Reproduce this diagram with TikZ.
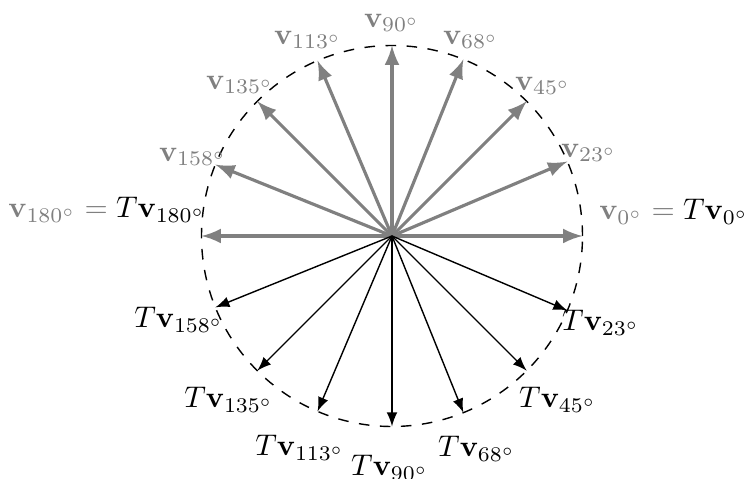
\documentclass[tikz,border=0pt]{standalone}
\usetikzlibrary{arrows,calc}
\begin{document}
\begin{tikzpicture}[
  vec/.style={gray, line width=0.9pt, -latex},
  tvec/.style={black, line width=0.4pt, -latex},
  circ/.style={black, dashed, line width=0.4pt},
  glab/.style={text=gray, inner sep=0pt, scale=0.85},
  blab/.style={text=black, inner sep=0pt, scale=0.85}
]
\useasboundingbox (0,0) rectangle (7.5,4.79);
\coordinate (o) at (3.92,2.43);
\def\R{1.905}
\draw[circ] (o) circle (\R);
% upper (gray) vectors
\foreach \a in {0,23,45,68,90,113,135,158,180}{
  \coordinate (u\a) at ($(o)+(\a:\R)$);
}
\foreach \a in {23,45,68,90,113,135,158}{
  \coordinate (d\a) at ($(o)+(-\a:\R)$);
}
\foreach \a in {0,23,45,68,90,113,135,158,180}{
  \draw[vec] (o) -- (u\a);
}
\foreach \a in {23,45,68,90,113,135,158}{
  \draw[tvec] (o) -- (d\a);
}
% labels
\node[glab] (l23)  at ($(o)+(1.97,0.83)$)  {$\mathbf{v}_{23^\circ}$};
\node[glab] (l45)  at ($(o)+(1.51,1.50)$)  {$\mathbf{v}_{45^\circ}$};
\node[glab] (l68)  at ($(o)+(0.79,1.96)$)  {$\mathbf{v}_{68^\circ}$};
\node[glab] (l90)  at ($(o)+(0.00,2.13)$)  {$\mathbf{v}_{90^\circ}$};
\node[glab] (l113) at ($(o)+(-0.84,1.96)$) {$\mathbf{v}_{113^\circ}$};
\node[glab] (l135) at ($(o)+(-1.52,1.51)$) {$\mathbf{v}_{135^\circ}$};
\node[glab] (l158) at ($(o)+(-1.99,0.79)$) {$\mathbf{v}_{158^\circ}$};
\node[blab] (m23)  at ($(o)+(2.09,-0.87)$)  {$T\mathbf{v}_{23^\circ}$};
\node[blab] (m45)  at ($(o)+(1.66,-1.64)$)  {$T\mathbf{v}_{45^\circ}$};
\node[blab] (m68)  at ($(o)+(0.85,-2.13)$)  {$T\mathbf{v}_{68^\circ}$};
\node[blab] (m90)  at ($(o)+(-0.02,-2.32)$) {$T\mathbf{v}_{90^\circ}$};
\node[blab] (m113) at ($(o)+(-0.92,-2.12)$) {$T\mathbf{v}_{113^\circ}$};
\node[blab] (m135) at ($(o)+(-1.63,-1.64)$) {$T\mathbf{v}_{135^\circ}$};
\node[blab] (m158) at ($(o)+(-2.13,-0.84)$) {$T\mathbf{v}_{158^\circ}$};
\node[blab] (l0)   at ($(o)+(2.82,0.24)$)   {$\color{gray}\mathbf{v}_{0^\circ} = \color{black}T\mathbf{v}_{0^\circ}$};
\node[blab] (l180) at ($(o)+(-2.85,0.26)$) {$\color{gray}\mathbf{v}_{180^\circ} = \color{black}T\mathbf{v}_{180^\circ}$};
\end{tikzpicture}
\end{document}
